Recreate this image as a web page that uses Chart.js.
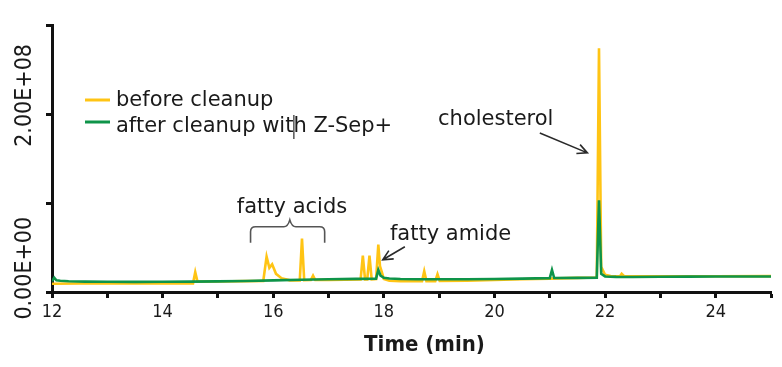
<!DOCTYPE html>
<html>
<head>
<meta charset="utf-8">
<script src="https://cdn.jsdelivr.net/npm/chart.js@4.4.0/dist/chart.umd.min.js"></script>
<style>
  body { margin: 0; background: #fff; }
  #wrap { width: 782px; height: 367px; }
</style>
</head>
<body>
<div id="wrap"><canvas id="lineChart" width="782" height="367"></canvas></div>
<script>
// chromatogram: abundance vs retention time, before / after cleanup
var seriesNames = ['before cleanup', 'after cleanup with Z-Sep+'];

var beforeTimes = [12.0, 12.5, 13.0, 13.5, 14.0, 14.55, 14.59, 14.63, 15.0, 15.5,
  15.82, 15.88, 15.93, 15.98, 16.05, 16.15, 16.3, 16.48, 16.52, 16.56,
  16.68, 16.72, 16.76, 17.0, 17.58, 17.62, 17.66, 17.70, 17.74, 17.78,
  17.86, 17.90, 17.93, 17.96, 18.0, 18.1, 18.3, 18.69, 18.73, 18.77,
  18.93, 18.97, 19.01, 19.5, 20.0, 20.5, 21.0, 21.5, 21.85, 21.89,
  21.93, 22.0, 22.1, 22.27, 22.3, 22.34, 22.6, 23.0, 23.5, 24.0, 25.0];
var beforeValues = [0.6e6, 0.8e6, 0.8e6, 0.9e6, 1.0e6, 1.0e6, 14e6, 3.0e6, 3.2e6, 3.6e6,
  3.8e6, 32e6, 19e6, 23e6, 12e6, 7e6, 4.5e6, 4.4e6, 52.7e6, 4.6e6,
  4.8e6, 10e6, 4.9e6, 5.0e6, 5.4e6, 33e6, 5.5e6, 5.5e6, 33e6, 5.6e6,
  6.0e6, 46e6, 21e6, 15e6, 6.0e6, 4.0e6, 3.5e6, 3.5e6, 15e6, 3.6e6,
  3.6e6, 11.5e6, 3.7e6, 4.0e6, 5.0e6, 5.8e6, 6.5e6, 7.3e6, 7.7e6, 273e6,
  20e6, 11e6, 9.5e6, 9.2e6, 12e6, 9.5e6, 9.2e6, 9.2e6, 9.3e6, 9.3e6, 9.4e6];

var afterTimes = [12.0, 12.04, 12.08, 12.15, 12.3, 12.6, 13.0, 13.5, 14.0, 14.5,
  15.0, 15.5, 16.0, 16.5, 17.0, 17.5, 17.86, 17.9, 17.94, 18.0,
  18.1, 18.3, 18.6, 19.0, 19.5, 20.0, 20.5, 21.0, 21.04, 21.08,
  21.5, 21.85, 21.89, 21.93, 22.0, 22.2, 22.5, 23.0, 23.5, 24.0, 24.5, 25.0];
var afterValues = [3.5e6, 7.5e6, 4.5e6, 4.0e6, 3.5e6, 3.0e6, 2.8e6, 2.7e6, 2.8e6, 3.0e6,
  3.3e6, 3.8e6, 4.5e6, 5.2e6, 5.8e6, 6.2e6, 6.4e6, 16.5e6, 10e6, 7.5e6,
  6.6e6, 6.0e6, 5.8e6, 5.7e6, 5.8e6, 6.1e6, 6.5e6, 7.0e6, 16.5e6, 7.2e6,
  7.4e6, 7.6e6, 97e6, 12e6, 9.0e6, 8.5e6, 8.4e6, 8.6e6, 8.8e6, 8.9e6, 9.0e6, 9.0e6];

var xTickLabels = ['12', '14', '16', '18', '20', '22', '24'];
var yTickValues = [0, 2e8];
var yTickLabels = ['0.00E+00', '2.00E+08'];
var xTitle = 'Time (min)';

var colors = ['#FFC414', '#0E9449'];
var ink = '#1a1a1a';

function pairs(xs, ys) {
  var out = [];
  for (var i = 0; i < xs.length; i++) out.push({x: xs[i], y: ys[i]});
  return out;
}

// callouts in data units
var notes = [
  {text: 'fatty acids', x: 16.34, y: 0.826e8, align: 'center'},
  {text: 'fatty amide', x: 18.11, y: 0.514e8, align: 'left'},
  {text: 'cholesterol', x: 18.98, y: 1.844e8, align: 'left'}
];
var arrows = [
  {x1: 18.38, y1: 0.434e8, x2: 17.98, y2: 0.283e8},
  {x1: 20.82, y1: 1.751e8, x2: 21.68, y2: 1.52e8}
];
var bracket = {left: 15.59, right: 16.93, mid: 16.30, bottom: 0.48e8, top: 0.665e8, tip: 0.745e8};

function arrow(ctx, x1, y1, x2, y2) {
  var a = Math.atan2(y2 - y1, x2 - x1), h = 11;
  ctx.beginPath();
  ctx.moveTo(x1, y1);
  ctx.lineTo(x2, y2);
  ctx.moveTo(x2 - h * Math.cos(a - 0.45), y2 - h * Math.sin(a - 0.45));
  ctx.lineTo(x2, y2);
  ctx.lineTo(x2 - h * Math.cos(a + 0.45), y2 - h * Math.sin(a + 0.45));
  ctx.stroke();
}

var overlay = {
  id: 'overlay',
  afterDraw: function(chart) {
    var ctx = chart.ctx, xs = chart.scales.x, ys = chart.scales.y, area = chart.chartArea;
    ctx.save();
    ctx.fillStyle = ink;

    // vertical y labels
    ctx.font = '23px "DejaVu Sans Condensed", "DejaVu Sans"';
    ctx.textAlign = 'center';
    ctx.textBaseline = 'middle';
    yTickValues.forEach(function(v, i) {
      ctx.save();
      ctx.translate(25, ys.getPixelForValue(v) - 16);
      ctx.rotate(-Math.PI / 2);
      ctx.fillText(yTickLabels[i], 0, 0);
      ctx.restore();
    });

    // x title
    ctx.font = 'bold 22px "DejaVu Sans Condensed", "DejaVu Sans"';
    ctx.textBaseline = 'alphabetic';
    ctx.fillText(xTitle, (area.left + area.right) / 2 + 13, 351);

    // legend
    ctx.font = '21px "DejaVu Sans"';
    ctx.textAlign = 'left';
    var lineY = [100, 122], textY = [106, 132];
    ctx.lineWidth = 3;
    chart.data.datasets.forEach(function(ds, i) {
      ctx.strokeStyle = ds.borderColor;
      ctx.beginPath();
      ctx.moveTo(85, lineY[i]);
      ctx.lineTo(110, lineY[i]);
      ctx.stroke();
      ctx.fillText(ds.label, 116, textY[i]);
    });
    // stray caret in the second legend entry
    var cx = 116 + ctx.measureText('after cleanup wit').width + 0.5;
    ctx.strokeStyle = '#000';
    ctx.lineWidth = 1;
    ctx.beginPath();
    ctx.moveTo(cx, 115);
    ctx.lineTo(cx, 139);
    ctx.stroke();

    // callout text
    notes.forEach(function(n) {
      ctx.textAlign = n.align;
      ctx.fillText(n.text, xs.getPixelForValue(n.x), ys.getPixelForValue(n.y));
    });

    // arrows
    ctx.strokeStyle = '#2a2a2a';
    ctx.lineWidth = 1.6;
    arrows.forEach(function(a) {
      arrow(ctx, xs.getPixelForValue(a.x1), ys.getPixelForValue(a.y1),
        xs.getPixelForValue(a.x2), ys.getPixelForValue(a.y2));
    });

    // brace over the fatty acid peaks
    var bl = xs.getPixelForValue(bracket.left), br = xs.getPixelForValue(bracket.right);
    var bm = xs.getPixelForValue(bracket.mid);
    var bb = ys.getPixelForValue(bracket.bottom), bt = ys.getPixelForValue(bracket.top);
    var tip = ys.getPixelForValue(bracket.tip);
    ctx.strokeStyle = '#555';
    ctx.lineWidth = 1.6;
    ctx.beginPath();
    ctx.moveTo(bl, bb);
    ctx.lineTo(bl, bt + 5);
    ctx.quadraticCurveTo(bl, bt, bl + 5, bt);
    ctx.lineTo(bm - 6, bt);
    ctx.quadraticCurveTo(bm - 2, bt, bm, tip);
    ctx.quadraticCurveTo(bm + 2, bt, bm + 6, bt);
    ctx.lineTo(br - 5, bt);
    ctx.quadraticCurveTo(br, bt, br, bt + 5);
    ctx.lineTo(br, bb);
    ctx.stroke();

    ctx.restore();
  }
};

var lineChartCanvas = document.getElementById('lineChart').getContext('2d');
var chromChart = new Chart(lineChartCanvas, {
  type: 'line',
  data: {
    datasets: [{
      label: seriesNames[0],
      data: pairs(beforeTimes, beforeValues),
      borderColor: colors[0],
      borderWidth: 2.6,
      pointRadius: 0,
      tension: 0,
      order: 2
    }, {
      label: seriesNames[1],
      data: pairs(afterTimes, afterValues),
      borderColor: colors[1],
      borderWidth: 2.6,
      pointRadius: 0,
      tension: 0,
      order: 1
    }]
  },
  options: {
    responsive: false,
    animation: false,
    devicePixelRatio: 1,
    layout: { padding: { top: 25, right: 11, left: 0, bottom: 0 } },
    plugins: {
      legend: { display: false },
      tooltip: { enabled: false }
    },
    scales: {
      x: {
        type: 'linear',
        min: 12,
        max: 25,
        afterFit: function(scale) { scale.height = 75; },
        border: { width: 3, color: '#111' },
        grid: { drawOnChartArea: false, drawTicks: true, tickLength: 6, tickWidth: 3, tickColor: '#111' },
        ticks: {
          stepSize: 1,
          autoSkip: false,
          maxRotation: 0,
          padding: 4,
          color: ink,
          font: { family: '"DejaVu Sans Condensed", "DejaVu Sans"', size: 18 },
          callback: function(value) {
            return xTickLabels.indexOf(String(value)) >= 0 ? String(value) : '';
          }
        }
      },
      y: {
        min: -9e6,
        max: 3e8,
        afterFit: function(scale) { scale.width = 52; },
        border: { width: 3, color: '#111' },
        grid: { drawOnChartArea: false, drawTicks: true, tickLength: 6, tickWidth: 3, tickColor: '#111' },
        ticks: { display: false, stepSize: 1e8, includeBounds: false }
      }
    }
  },
  plugins: [overlay]
});
</script>
</body>
</html>
